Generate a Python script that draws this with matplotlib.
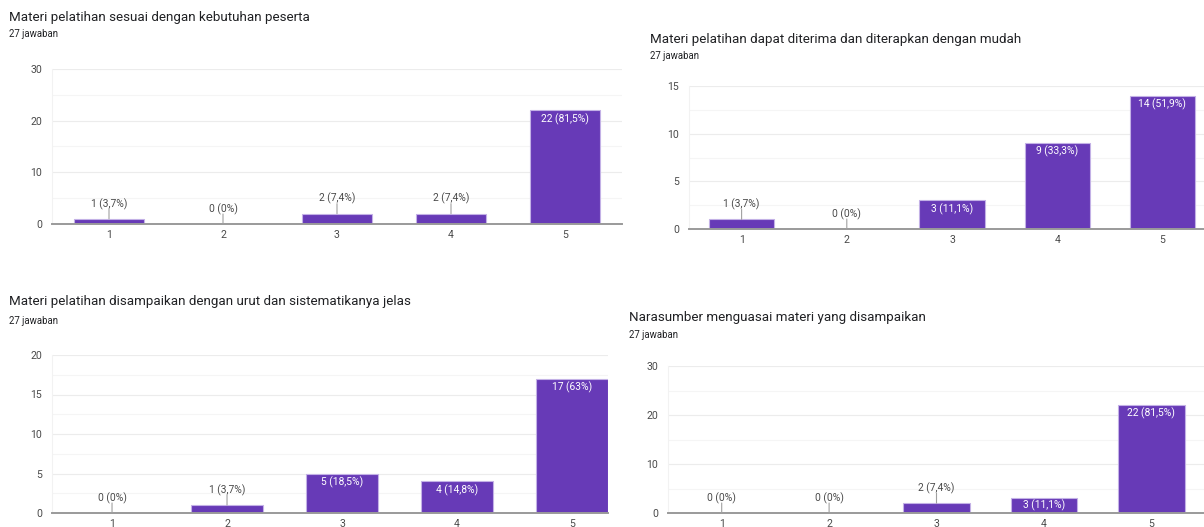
import matplotlib
matplotlib.use('Agg')
import matplotlib.pyplot as plt
from matplotlib.ticker import MultipleLocator

plt.rcParams['font.family'] = ['Roboto', 'DejaVu Sans']

# ---------------- data ----------------
categories = ['1', '2', '3', '4', '5']
total_responses = 27
subtitle = '27 jawaban'

title_tl = 'Materi pelatihan sesuai dengan kebutuhan peserta'
counts_tl = [1, 0, 2, 2, 22]

title_tr = 'Materi pelatihan dapat diterima dan diterapkan dengan mudah'
counts_tr = [1, 0, 3, 9, 14]

title_bl = 'Materi pelatihan disampaikan dengan urut dan sistematikanya jelas'
counts_bl = [0, 1, 5, 4, 17]

title_br = 'Narasumber menguasai materi yang disampaikan'
counts_br = [0, 0, 2, 3, 22]

# ---------------- style ----------------
W, H = 1204, 527
BAR = '#673ab7'
BAR_EDGE = '#c3b1e6'
TXT = '#202124'
TICK = '#4a4a4a'

fig = plt.figure(figsize=(W / 100, H / 100), dpi=100)


def px_axes(left, right, top, bottom):
    return fig.add_axes([left / W, 1 - bottom / H, (right - left) / W, (bottom - top) / H])


def fmt_pct(v):
    p = v / total_responses * 100
    s = f'{p:.1f}'
    if s.endswith('.0'):
        s = s[:-2]
    return s.replace('.', ',')


PT = 0.72  # points per pixel at 100 dpi

panels = [
    dict(title=title_tl, counts=counts_tl, box=(52, 622, 69, 224), ymax=30, major=10,
         xlim=(0.5, 5.5), tx=9, ty=17, sy=34),
    dict(title=title_tr, counts=counts_tr, box=(689, 1215, 86, 229), ymax=15, major=5,
         xlim=(0.5, 5.5), tx=650, ty=39, sy=56),
    dict(title=title_bl, counts=counts_bl, box=(52, 608, 355, 513), ymax=20, major=5,
         xlim=(0.478, 5.313), tx=9, ty=302, sy=321),
    dict(title=title_br, counts=counts_br, box=(668, 1205, 366, 513), ymax=30, major=10,
         xlim=(0.5, 5.5), tx=629, ty=317, sy=335),
]

for p in panels:
    fig.text(p['tx'] / W, 1 - p['ty'] / H, p['title'], fontsize=9.6, color=TXT,
             ha='left', va='center')
    fig.text(p['tx'] / W, 1 - p['sy'] / H, subtitle, fontsize=6.9, color=TXT,
             ha='left', va='center')

    left, right, top, bottom = p['box']
    ax = px_axes(left, right, top, bottom)
    x = list(range(1, len(categories) + 1))
    ax.bar(x, p['counts'], width=0.62, color=BAR, edgecolor=BAR_EDGE, linewidth=0.8, zorder=3)
    ax.set_xlim(*p['xlim'])
    ax.set_ylim(0, p['ymax'])
    ax.set_xticks(x)
    ax.set_xticklabels(categories)
    ax.yaxis.set_major_locator(MultipleLocator(p['major']))
    ax.yaxis.set_minor_locator(MultipleLocator(p['major'] / 2))
    ax.grid(which='major', axis='y', color='#ececec', linewidth=0.8, zorder=0)
    ax.grid(which='minor', axis='y', color='#f5f5f5', linewidth=0.8, zorder=0)
    ax.tick_params(which='both', length=0)
    ax.tick_params(axis='y', labelsize=7.6, colors=TICK, pad=7)
    ax.tick_params(axis='x', labelsize=7.6, colors=TICK, pad=4)
    for s in ['top', 'right', 'bottom']:
        ax.spines[s].set_visible(False)
    ax.spines['left'].set_color('#f2f2f2')
    ax.spines['left'].set_linewidth(0.8)
    ax.axhline(0, color='#9a9a9a', linewidth=1.4, zorder=4, clip_on=False)

    ax_h_px = bottom - top
    for xi, v in zip(x, p['counts']):
        label = f'{v} ({fmt_pct(v)}%)'
        hpx = ax_h_px * v / p['ymax']
        if hpx >= 14:
            off = min(8.5, hpx / 2)
            ax.annotate(label, xy=(xi, v), xytext=(0, -off * PT), textcoords='offset points',
                        ha='center', va='center', fontsize=7.4, color='white', zorder=5)
        else:
            ax.annotate(label, xy=(xi, v), xytext=(0, 15 * PT), textcoords='offset points',
                        ha='center', va='center', fontsize=7.4, color=TICK, zorder=5)
            ax.annotate('', xy=(xi, v), xytext=(0, 10 * PT), textcoords='offset points',
                        arrowprops=dict(arrowstyle='-', color='#a0a0a0', lw=0.8,
                                        shrinkA=0, shrinkB=0), zorder=5)

fig.savefig('out.png', dpi=100, facecolor='white')
